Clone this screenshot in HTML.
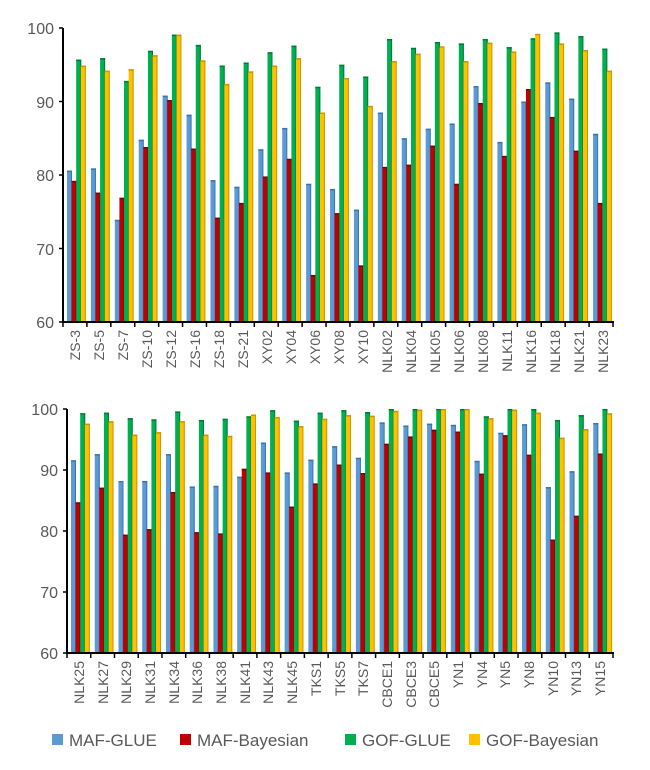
<!DOCTYPE html>
<html><head><meta charset="utf-8"><style>
html,body{margin:0;padding:0;background:#fff;}
svg{display:block;font-family:"Liberation Sans",sans-serif;}
.yl{font-size:16px;fill:#595959;text-anchor:end;}
.xl{font-size:14px;fill:#595959;text-anchor:end;}
.lg{font-size:17px;fill:#595959;}
</style></head><body>
<svg id="s" width="650" height="770" viewBox="0 0 650 770" xmlns="http://www.w3.org/2000/svg">
<g id="bars"></g>
<g stroke="#000" stroke-width="2" fill="none">
<line x1="63" y1="28" x2="63" y2="322"/><line x1="62" y1="322" x2="614" y2="322"/>
<line x1="67" y1="409" x2="67" y2="653"/><line x1="66" y1="653" x2="614" y2="653"/>
</g>
<g id="ticks" stroke="#000" stroke-width="1.5"></g>
<text class="yl" x="54" y="34">100</text><text class="yl" x="54" y="108">90</text><text class="yl" x="54" y="181">80</text><text class="yl" x="54" y="255">70</text><text class="yl" x="54" y="328">60</text>
<text class="yl" x="58" y="415">100</text><text class="yl" x="58" y="476">90</text><text class="yl" x="58" y="537">80</text><text class="yl" x="58" y="598">70</text><text class="yl" x="58" y="659">60</text>
<g id="xt">
<text class="xl" transform="translate(80,330) rotate(-90)">ZS-3</text>
<text class="xl" transform="translate(104,330) rotate(-90)">ZS-5</text>
<text class="xl" transform="translate(128,330) rotate(-90)">ZS-7</text>
<text class="xl" transform="translate(152,330) rotate(-90)">ZS-10</text>
<text class="xl" transform="translate(176,330) rotate(-90)">ZS-12</text>
<text class="xl" transform="translate(200,330) rotate(-90)">ZS-16</text>
<text class="xl" transform="translate(224,330) rotate(-90)">ZS-18</text>
<text class="xl" transform="translate(248,330) rotate(-90)">ZS-21</text>
<text class="xl" transform="translate(272,330) rotate(-90)">XY02</text>
<text class="xl" transform="translate(296,330) rotate(-90)">XY04</text>
<text class="xl" transform="translate(320,330) rotate(-90)">XY06</text>
<text class="xl" transform="translate(344,330) rotate(-90)">XY08</text>
<text class="xl" transform="translate(368,330) rotate(-90)">XY10</text>
<text class="xl" transform="translate(392,330) rotate(-90)">NLK02</text>
<text class="xl" transform="translate(416,330) rotate(-90)">NLK04</text>
<text class="xl" transform="translate(440,330) rotate(-90)">NLK05</text>
<text class="xl" transform="translate(464,330) rotate(-90)">NLK06</text>
<text class="xl" transform="translate(488,330) rotate(-90)">NLK08</text>
<text class="xl" transform="translate(512,330) rotate(-90)">NLK11</text>
<text class="xl" transform="translate(536,330) rotate(-90)">NLK16</text>
<text class="xl" transform="translate(560,330) rotate(-90)">NLK18</text>
<text class="xl" transform="translate(584,330) rotate(-90)">NLK21</text>
<text class="xl" transform="translate(608,330) rotate(-90)">NLK23</text>
<text class="xl" transform="translate(84,661) rotate(-90)">NLK25</text>
<text class="xl" transform="translate(108,661) rotate(-90)">NLK27</text>
<text class="xl" transform="translate(131,661) rotate(-90)">NLK29</text>
<text class="xl" transform="translate(155,661) rotate(-90)">NLK31</text>
<text class="xl" transform="translate(179,661) rotate(-90)">NLK34</text>
<text class="xl" transform="translate(202,661) rotate(-90)">NLK36</text>
<text class="xl" transform="translate(226,661) rotate(-90)">NLK38</text>
<text class="xl" transform="translate(250,661) rotate(-90)">NLK41</text>
<text class="xl" transform="translate(273,661) rotate(-90)">NLK43</text>
<text class="xl" transform="translate(297,661) rotate(-90)">NLK45</text>
<text class="xl" transform="translate(321,661) rotate(-90)">TKS1</text>
<text class="xl" transform="translate(345,661) rotate(-90)">TKS5</text>
<text class="xl" transform="translate(368,661) rotate(-90)">TKS7</text>
<text class="xl" transform="translate(392,661) rotate(-90)">CBCE1</text>
<text class="xl" transform="translate(416,661) rotate(-90)">CBCE3</text>
<text class="xl" transform="translate(439,661) rotate(-90)">CBCE5</text>
<text class="xl" transform="translate(463,661) rotate(-90)">YN1</text>
<text class="xl" transform="translate(487,661) rotate(-90)">YN4</text>
<text class="xl" transform="translate(510,661) rotate(-90)">YN5</text>
<text class="xl" transform="translate(534,661) rotate(-90)">YN8</text>
<text class="xl" transform="translate(558,661) rotate(-90)">YN10</text>
<text class="xl" transform="translate(581,661) rotate(-90)">YN13</text>
<text class="xl" transform="translate(605,661) rotate(-90)">YN15</text>
</g>
<rect x="52" y="734" width="11" height="11" fill="#5b9bd5"/><text class="lg" x="69" y="746">MAF-GLUE</text>
<rect x="180" y="734" width="11" height="11" fill="#c00000"/><text class="lg" x="197" y="746">MAF-Bayesian</text>
<rect x="345" y="734" width="11" height="11" fill="#00b050"/><text class="lg" x="362" y="746">GOF-GLUE</text>
<rect x="469" y="734" width="11" height="11" fill="#ffc000"/><text class="lg" x="486" y="746">GOF-Bayesian</text>
</svg>
<script>
var dTop=[[80.6,79.2,95.7,94.9],[80.9,77.6,95.9,94.2],[73.9,76.9,92.8,94.4],[84.8,83.8,96.9,96.3],[90.8,90.2,99.1,99.1],[88.2,83.6,97.7,95.6],[79.3,74.2,94.9,92.4],[78.4,76.2,95.3,94.1],[83.5,79.8,96.7,94.9],[86.4,82.2,97.6,95.9],[78.8,66.4,92.0,88.5],[78.1,74.8,95.0,93.2],[75.3,67.7,93.4,89.4],[88.5,81.1,98.5,95.5],[85.0,81.4,97.3,96.5],[86.3,84.0,98.1,97.5],[87.0,78.8,97.9,95.5],[92.1,89.8,98.5,98.0],[84.5,82.6,97.4,96.8],[90.0,91.7,98.6,99.2],[92.6,87.9,99.4,97.9],[90.4,83.3,98.9,97.0],[85.6,76.2,97.2,94.2]];
var dBot=[[91.6,84.7,99.3,97.6],[92.6,87.1,99.4,98.0],[88.2,79.4,98.5,95.8],[88.2,80.3,98.3,96.2],[92.6,86.4,99.6,98.0],[87.3,79.8,98.2,95.8],[87.4,79.6,98.4,95.6],[88.9,90.2,98.8,99.1],[94.5,89.6,99.8,98.7],[89.6,84.0,98.1,97.2],[91.7,87.8,99.4,98.4],[93.9,90.9,99.8,99.0],[92.0,89.5,99.5,98.9],[97.8,94.3,100,99.7],[97.3,95.5,100,99.9],[97.6,96.6,100,100],[97.4,96.3,100,100],[91.5,89.4,98.8,98.5],[96.1,95.7,100,99.9],[97.5,92.5,100,99.4],[87.2,78.6,98.2,95.3],[89.8,82.5,99.0,96.7],[97.7,92.7,100,99.3]];
var cols=["#5b9bd5","#c00000","#00b050","#ffc000"],dk=["#3a75b0","#800000","#007a38","#c99700"];
var ns="http://www.w3.org/2000/svg",B=document.getElementById("bars"),T=document.getElementById("ticks");
function r(p,x,y,w,h,f){var e=document.createElementNS(ns,"rect");e.setAttribute("x",x);e.setAttribute("y",y);e.setAttribute("width",w);e.setAttribute("height",h);e.setAttribute("fill",f);p.appendChild(e);}
function ln(x1,y1,x2,y2){var e=document.createElementNS(ns,"line");e.setAttribute("x1",x1);e.setAttribute("y1",y1);e.setAttribute("x2",x2);e.setAttribute("y2",y2);T.appendChild(e);}
function draw(d,x0,x1,y100,y60){var cw=(x1-x0)/23,k=(y60-y100)/40;
for(var i=0;i<23;i++){for(var j=0;j<4;j++){var v=d[i][j],x=x0+i*cw+4+j*4.6,y=y60-(v-60)*k;r(B,x,y,5,y60-y,cols[j]);r(B,x,y,5,1.5,dk[j]);r(B,x+4,y,1,y60-y,dk[j]);}}
for(var i=0;i<=23;i++)ln(x0+i*cw,y60,x0+i*cw,y60+5);
for(var t=0;t<=4;t++)ln(x0-4,y100+t*10*k,x0,y100+t*10*k);}
draw(dTop,63,613,28,322);draw(dBot,67,613,409,653);
</script>
</body></html>
